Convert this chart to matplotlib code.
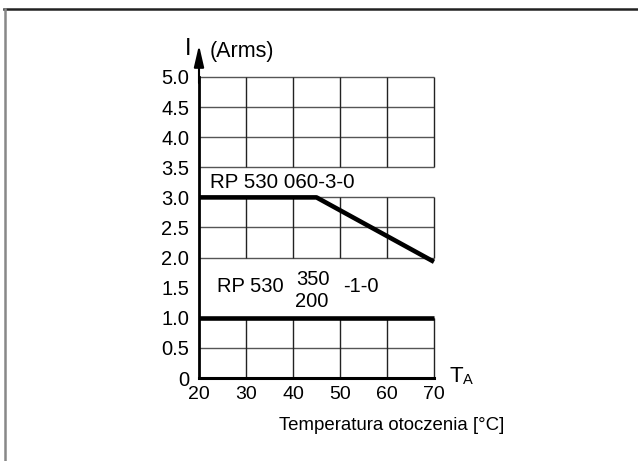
import matplotlib
matplotlib.use('Agg')
import matplotlib.pyplot as plt
from matplotlib.lines import Line2D

plt.rcParams['font.family'] = ['Liberation Sans', 'DejaVu Sans']

# dane
x_ticks = [20, 30, 40, 50, 60, 70]
x_labels = ['20', '30', '40', '50', '60', '70']
y_ticks = [0, 0.5, 1.0, 1.5, 2.0, 2.5, 3.0, 3.5, 4.0, 4.5, 5.0]
y_labels = ['0', '0.5', '1.0', '1.5', '2.0', '2.5', '3.0', '3.5', '4.0', '4.5', '5.0']
h_grid = [0.5, 1.0, 2.0, 2.5, 3.0, 3.5, 4.0, 4.5, 5.0]
# odcinki siatki pionowej (puste pasy pod opisami)
v_grid_spans = [(0, 1.0), (2.0, 3.0), (3.5, 5.0)]

temp_060 = [20, 45, 70]
curr_060 = [3.0, 3.0, 1.93]
temp_350 = [20, 70]
curr_350 = [1.0, 1.0]

fig = plt.figure(figsize=(6.38, 4.61), dpi=100)
ax = fig.add_axes([199 / 638, 83 / 461, 235 / 638, 301 / 461])
ax.set_xlim(20, 70)
ax.set_ylim(0, 5)

# siatka
ax.hlines(h_grid, 20, 70, color='#555555', lw=1, zorder=1, clip_on=False)
for lo, hi in v_grid_spans:
    ax.vlines(x_ticks[1:], lo, hi, color='#222222', lw=1, zorder=1, clip_on=False)

for s in ['top', 'right']:
    ax.spines[s].set_visible(False)
ax.spines['left'].set_linewidth(2)
ax.spines['bottom'].set_linewidth(2.2)

ax.set_xticks(x_ticks)
ax.set_xticklabels(x_labels, fontsize=14)
ax.set_yticks(y_ticks)
ax.set_yticklabels(y_labels, fontsize=14.5)
ax.tick_params(axis='x', length=0, pad=6)
ax.tick_params(axis='y', length=0, pad=7)

# krzywe
ax.plot(temp_060, curr_060, color='black', lw=3.3, clip_on=False, zorder=3,
        solid_capstyle='butt')
ax.plot(temp_350, curr_350, color='black', lw=3.3, clip_on=False, zorder=3,
        solid_capstyle='butt')

# strzalka osi Y
ax.annotate('', xy=(20, 5.53), xytext=(20, 4.9),
            arrowprops=dict(arrowstyle='-|>,head_length=1.3,head_width=0.3',
                            color='black', lw=1.5, shrinkA=0, shrinkB=0),
            annotation_clip=False)

# opisy
ax.text(22.3, 3.16, 'RP 530 060-3-0', fontsize=14.8, va='baseline')
ax.text(23.8, 1.43, 'RP 530', fontsize=14.5, va='baseline')
ax.text(40.6, 1.55, '350', fontsize=14.5, va='baseline')
ax.text(40.4, 1.18, '200', fontsize=14.5, va='baseline')
ax.text(50.6, 1.43, '-1-0', fontsize=14.5, va='baseline')

ax.text(17.7, 5.37, 'I', fontsize=17, ha='center', va='baseline', clip_on=False)
ax.text(22.3, 5.34, '(Arms)', fontsize=15.5, va='baseline', clip_on=False)
ax.text(73.4, -0.07, 'T', fontsize=16, va='baseline', clip_on=False)
ax.text(76.1, -0.10, 'A', fontsize=10.5, va='baseline', clip_on=False)
ax.text(37.0, -0.87, 'Temperatura otoczenia [°C]', fontsize=13.4, va='baseline',
        clip_on=False)

# ramka
fig.add_artist(Line2D([4 / 638, 1], [1 - 9.5 / 461, 1 - 9.5 / 461],
                      transform=fig.transFigure, color='#222222', lw=1.8))
fig.add_artist(Line2D([4.5 / 638, 4.5 / 638], [0, 1 - 9.5 / 461],
                      transform=fig.transFigure, color='#888888', lw=1.8))

fig.savefig('out.png', dpi=100)
